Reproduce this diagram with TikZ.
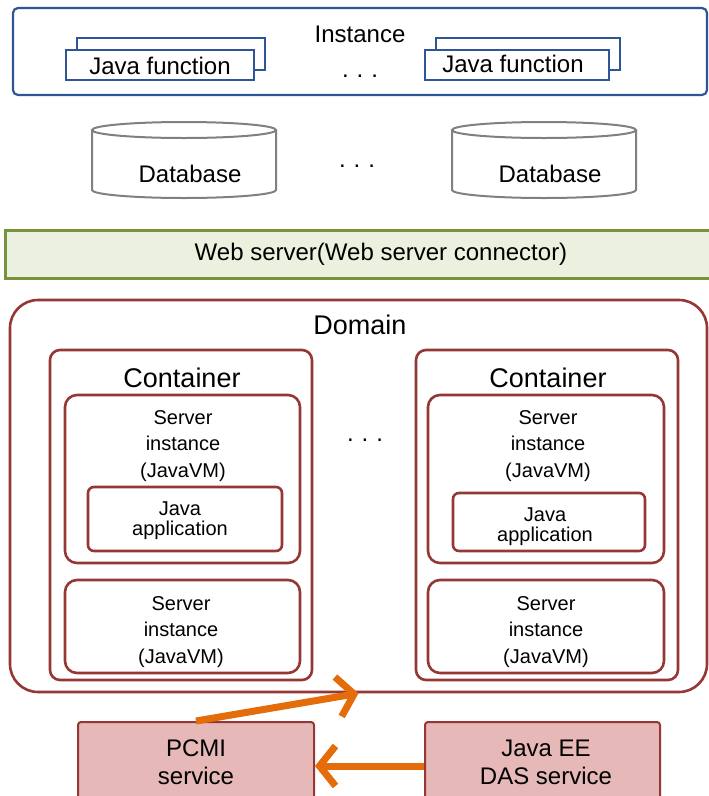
\documentclass[tikz,border=0pt]{standalone}
\usepackage{fontspec}
\setmainfont{Liberation Sans}
\usetikzlibrary{arrows.meta}
\definecolor{iblue}{RGB}{47,85,151}
\definecolor{dbgray}{RGB}{128,128,128}
\definecolor{wgreen}{RGB}{119,147,60}
\definecolor{wfill}{RGB}{235,241,222}
\definecolor{dred}{RGB}{149,55,53}
\definecolor{pink}{RGB}{230,184,183}
\definecolor{orng}{RGB}{228,108,10}
\begin{document}
\begin{tikzpicture}[x=1pt,y=-1pt,
  box/.style={rectangle, inner sep=0pt, draw},
  bluebox/.style={box, draw=iblue, line width=2.2pt, fill=white},
  redbox/.style={box, draw=dred, line width=2.6pt},
  txt/.style={inner sep=0pt, align=center, text=black},
  big/.style={txt, font=\fontsize{27}{32}\selectfont},
  mid/.style={txt, font=\fontsize{24}{28}\selectfont},
  srv/.style={txt, font=\fontsize{20}{26.5}\selectfont},
  app/.style={txt, font=\fontsize{20}{20}\selectfont},
  dots/.style={txt, anchor=base, font=\fontsize{24}{28}\selectfont},
  flow/.style={draw=orng, line width=7pt, -{Straight Barb[length=16pt,width=40pt]}}
]
\useasboundingbox (0,0) rectangle (709,796);

% Instance
\node[bluebox, rounded corners=5pt, minimum width=694pt, minimum height=87pt] (inst) at (360,51.5) {};
\node[mid] (instlbl) at (360,34) {Instance};
\node[bluebox, minimum width=188pt, minimum height=32pt] (jfLb) at (171,54) {};
\node[bluebox, minimum width=188pt, minimum height=30pt] (jfL) at (160,65) {};
\node[mid] (jfLt) at (160,66) {Java function};
\node[bluebox, minimum width=184pt, minimum height=32pt] (jfRb) at (528,54) {};
\node[bluebox, minimum width=184pt, minimum height=30pt] (jfR) at (517,65) {};
\node[mid] (jfRt) at (513,64) {Java function};
\node[dots] (d1) at (360,77) {.\,\,.\,\,.};

% Databases
\draw[dbgray, line width=2pt] (92,130) -- (92,190) arc[start angle=180, end angle=0, x radius=92, y radius=8] -- (276,130);
\draw[dbgray, line width=2pt] (184,130) ellipse [x radius=92, y radius=8];
\node[mid] (db1) at (190,174) {Database};
\draw[dbgray, line width=2pt] (452,130) -- (452,190) arc[start angle=180, end angle=0, x radius=92, y radius=8] -- (636,130);
\draw[dbgray, line width=2pt] (544,130) ellipse [x radius=92, y radius=8];
\node[mid] (db2) at (550,174) {Database};
\node[dots] (d2) at (357,167) {.\,\,.\,\,.};

% Web server
\node[box, draw=wgreen, fill=wfill, line width=3pt, minimum width=710pt, minimum height=48pt] (web) at (360,254) {};
\node[mid] (webt) at (381,254) {Web server(Web server connector)};

% Domain
\node[redbox, rounded corners=28pt, minimum width=697pt, minimum height=392pt] (dom) at (358.5,496) {};
\node[big] (domt) at (360,325) {Domain};
\node[dots] (d3) at (365,441) {.\,\,.\,\,.};

% Left container
\node[redbox, rounded corners=10pt, minimum width=262pt, minimum height=330pt] (cL) at (181,515) {};
\node[big] (cLt) at (182,378) {Container};
\node[redbox, rounded corners=12pt, minimum width=235pt, minimum height=168pt] (s1L) at (182.5,479) {};
\node[srv] (s1Lt) at (183,446) {Server\\instance\\(JavaVM)};
\node[redbox, rounded corners=6pt, minimum width=194pt, minimum height=64pt] (aL) at (185,519) {};
\node[app] (aLt) at (180,521) {Java\\application};
\node[redbox, rounded corners=12pt, minimum width=235pt, minimum height=93pt] (s2L) at (182.5,626.5) {};
\node[srv] (s2Lt) at (181,632) {Server\\instance\\(JavaVM)};

% Right container
\node[redbox, rounded corners=10pt, minimum width=262pt, minimum height=330pt] (cR) at (547,515) {};
\node[big] (cRt) at (548,378) {Container};
\node[redbox, rounded corners=12pt, minimum width=236pt, minimum height=168pt] (s1R) at (546,479) {};
\node[srv] (s1Rt) at (548,446) {Server\\instance\\(JavaVM)};
\node[redbox, rounded corners=6pt, minimum width=192pt, minimum height=58pt] (aR) at (549,522) {};
\node[app] (aRt) at (545,527) {Java\\application};
\node[redbox, rounded corners=12pt, minimum width=236pt, minimum height=93pt] (s2R) at (546,626.5) {};
\node[srv] (s2Rt) at (546,632) {Server\\instance\\(JavaVM)};

% Services
\node[box, draw=dred, fill=pink, line width=2pt, rounded corners=3pt, minimum width=236pt, minimum height=88pt] (pcmi) at (196,766) {};
\node[mid, font=\fontsize{24}{28}\selectfont] (pcmit) at (196,762) {PCMI\\service};
\node[box, draw=dred, fill=pink, line width=2pt, rounded corners=3pt, minimum width=235pt, minimum height=88pt] (jee) at (542.5,766) {};
\node[mid, font=\fontsize{24}{28}\selectfont] (jeet) at (546,762) {Java EE\\DAS service};

% Arrows
\draw[flow] (pcmi.north) -- (dom.south);
\draw[flow] (jee.west) -- (pcmi.east);
\end{tikzpicture}
\end{document}
